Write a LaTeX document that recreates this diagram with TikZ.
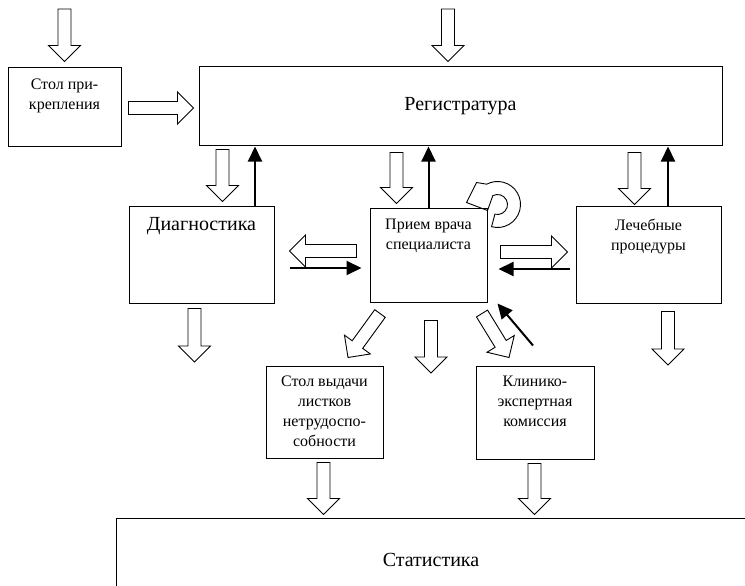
\documentclass[tikz,border=0pt]{standalone}
\usepackage{fontspec}
\setmainfont{Liberation Serif}
\usetikzlibrary{calc,arrows.meta}

\tikzset{
  box/.style={draw, line width=1pt, inner sep=0pt},
  boxtext/.style={font=\fontsize{16}{20}\selectfont, align=center, inner sep=0pt},
  bigtext/.style={font=\fontsize{20}{24}\selectfont},
  hollow/.style={draw, line width=0.9pt},
  solidarrow/.style={line width=2pt, -{Triangle[length=15pt,width=14pt]}},
}

\newcommand{\bigarrow}[2]{%
  \coordinate (ba-s) at #1;
  \coordinate (ba-e) at #2;
  \coordinate (ba-m) at ($(ba-e)!16pt!(ba-s)$);
  \draw[hollow] ($(ba-s)!6.5pt!90:(ba-e)$) -- ($(ba-m)!6.5pt!90:(ba-e)$)
    -- ($(ba-m)!16pt!90:(ba-e)$) -- (ba-e) -- ($(ba-m)!16pt!-90:(ba-e)$)
    -- ($(ba-m)!6.5pt!-90:(ba-e)$) -- ($(ba-s)!6.5pt!-90:(ba-e)$) -- cycle;
}

\begin{document}
\begin{tikzpicture}[x=1pt, y=-1pt]
  \useasboundingbox (0,0) rectangle (745,586);
  % boxes
  \node[box, minimum width=113pt, minimum height=78pt,
    label={[boxtext, below=11pt]north:Стол при-\\крепления}] (stol) at (64.5,107) {};
  \node[box, bigtext, minimum width=523pt, minimum height=78pt] (reg) at (460.5,106) {Регистратура};
  \node[box, minimum width=145pt, minimum height=97pt,
    label={[bigtext, inner sep=0pt, below=12pt]north:Диагностика}] (diag) at (201.5,254.5) {};
  \node[box, minimum width=117pt, minimum height=94pt,
    label={[boxtext, below=11pt]north:Прием врача\\специалиста}] (priem) at (428.5,255) {};
  \node[box, minimum width=145pt, minimum height=97pt,
    label={[boxtext, below=13pt]north:Лечебные\\процедуры}] (lech) at (648.5,254.5) {};
  \node[box, minimum width=117pt, minimum height=92pt,
    label={[boxtext, below=10pt]north:Стол выдачи\\листков\\нетрудоспо-\\собности}] (vyd) at (324.5,412) {};
  \node[box, minimum width=118pt, minimum height=93pt,
    label={[boxtext, below=10pt]north:Клинико-\\экспертная\\комиссия}] (kek) at (535,412.5) {};
  \node[box, bigtext, minimum width=630pt, minimum height=84pt] (stat) at (431,560) {Статистика};

  % free ends
  \coordinate (src1) at (64.5,9);
  \coordinate (src2) at (448,9);
  \coordinate (out1) at (194.5,362);
  \coordinate (out2) at (431,373);
  \coordinate (out3) at (668,365);

  % hollow arrows
  \bigarrow{(src1)}{($(stol.north)+(0,-6)$)}
  \bigarrow{(src2)}{($(src2 |- reg.north)+(0,-5)$)}
  \bigarrow{($(stol.east)+(7,1)$)}{($(reg.west |- stol.east)+(-5,1)$)}
  \bigarrow{($(reg.south -| diag.north)+(21,4)$)}{($(diag.north)+(21,-4)$)}
  \bigarrow{($(reg.south -| priem.north)+(-32,7)$)}{($(priem.north)+(-32,-4)$)}
  \bigarrow{($(reg.south -| lech.north)+(-14,7)$)}{($(lech.north)+(-14,-1)$)}
  \bigarrow{($(priem.west)+(-13,-4)$)}{($(diag.east)+(15,-3.5)$)}
  \bigarrow{($(priem.east)+(13,-3)$)}{($(lech.west)+(-8,-2.5)$)}
  \bigarrow{($(diag.south)+(-7,5)$)}{(out1)}
  \bigarrow{($(priem.south)+(2.5,18)$)}{(out2)}
  \bigarrow{($(lech.south)+(19.5,8)$)}{(out3)}
  \bigarrow{($(priem.south)+(-48.5,11)$)}{($(vyd.north)+(23.5,-8)$)}
  \bigarrow{($(priem.south)+(53.5,11)$)}{($(kek.north)+(-26,-8)$)}
  \bigarrow{($(vyd.south)+(-1,4)$)}{($(stat.north -| vyd.south)+(-1,-3)$)}
  \bigarrow{($(kek.south)+(-0.5,4)$)}{($(stat.north -| kek.south)+(-0.5,-3)$)}

  % solid arrows
  \draw[solidarrow] ($(diag.north)+(53.5,0)$) -- ($(reg.south -| diag.north)+(53.5,1)$);
  \draw[solidarrow] (priem.north) -- ($(reg.south -| priem.north)+(0,1)$);
  \draw[solidarrow] ($(lech.north)+(19.5,0)$) -- ($(reg.south -| lech.north)+(19.5,1)$);
  \draw[solidarrow] ($(diag.east)+(15,13.5)$) -- ($(priem.west)+(-8,13)$);
  \draw[solidarrow] ($(lech.west)+(-6,14.5)$) -- ($(priem.east)+(11,14)$);
  \draw[solidarrow] ($(kek.north)+(-2,-20)$) -- ($(priem.south east)+(10,1)$);

  % loop back into the same box
  \coordinate (curl) at ($(priem.north east)+(10,-3)$);
  \draw[hollow] ($(curl)+(105:23)$) arc[start angle=105, end angle=-118, radius=23]
    -- ($(curl)+(-21,-22)$) -- ($(curl)+(-31,-2)$) -- ($(curl)+(-10,6)$)
    -- ($(curl)+(-118:10)$) arc[start angle=-118, end angle=105, radius=10] -- cycle;
\end{tikzpicture}
\end{document}
